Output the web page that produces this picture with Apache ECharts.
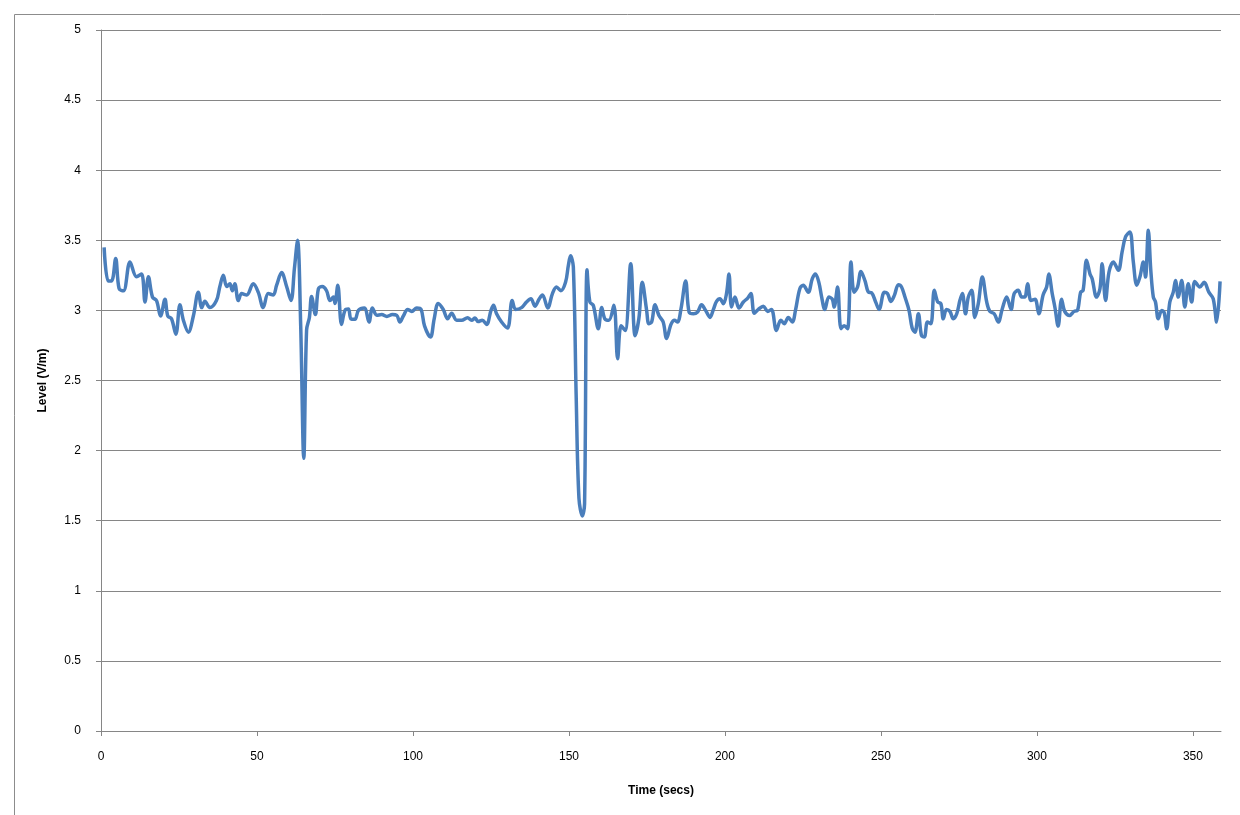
<!DOCTYPE html>
<html>
<head>
<meta charset="utf-8">
<script src="https://cdn.jsdelivr.net/npm/echarts@6/dist/echarts.min.js"></script>
<style>
html,body{margin:0;padding:0;background:#fff;}
#chart{width:1240px;height:815px;}
</style>
</head>
<body>
<div id="chart"></div>
<script>
// Time (secs)
const times = [
1.0,2.3,3.4,4.7,5.8,7.2,9.3,11.4,13.0,14.1,15.2,16.5,17.8,19.1,20.5,21.4,22.6,24.0,25.3,26.4,28.0,29.6,31.2,32.3,33.3,34.9,
37.0,38.1,39.2,40.3,41.3,42.1,42.9,44.0,45.1,46.7,48.8,50.4,52.0,53.6,55.2,56.3,57.9,59.5,60.9,62.0,63.0,64.0,65.0,65.9,66.8,67.5,68.7,
69.7,70.9,72.3,73.4,74.5,75.0,75.9,77.1,78.2,79.3,80.1,81.4,82.5,84.4,85.9,87.0,88.4,90.0,91.6,93.4,94.8,95.8,96.9,98.3,99.6,101.2,102.6,
103.7,105.6,106.8,108.1,109.7,111.1,112.4,114.0,115.6,117.5,118.8,119.9,120.9,122.2,123.6,125.0,125.8,126.8,128.4,130.3,131.8,132.9,134.8,
136.4,137.8,139.1,140.4,141.5,143.2,144.7,146.0,147.4,148.9,149.8,150.5,151.4,152.3,153.2,154.3,155.0,155.8,156.7,157.8,159.4,160.5,161.5,
162.8,164.4,165.6,166.7,168.0,169.8,171.2,172.4,173.5,174.9,175.6,176.5,177.6,178.8,180.2,181.3,182.7,183.8,184.8,185.9,187.4,188.5,189.9,
191.2,192.5,193.8,195.2,196.3,197.3,198.4,199.5,200.5,201.3,202.1,203.2,204.5,205.9,207.3,208.3,209.4,210.7,212.3,213.7,214.9,216.5,217.9,
219.0,220.3,221.6,222.6,224.0,225.1,226.7,228.0,229.0,230.1,231.0,232.0,233.3,234.4,235.0,236.1,237.2,238.2,239.3,240.4,241.4,242.5,243.6,
244.9,246.0,247.0,248.3,249.4,251.1,252.1,253.2,254.3,255.6,256.6,257.7,259.0,260.0,260.9,262.0,263.0,263.9,264.9,266.0,267.1,268.2,269.2,
270.0,271.0,272.1,273.2,274.3,275.3,276.1,277.1,278.0,279.1,280.1,281.2,282.5,283.9,284.9,286.3,287.6,288.9,290.3,291.7,292.7,294.0,295.1,
296.1,297.0,298.1,299.4,300.6,302.0,303.1,303.8,304.9,305.8,306.8,307.9,308.9,310.5,311.9,313.0,314.0,314.8,315.9,317.0,317.7,319.1,320.2,
320.9,322.0,323.1,324.5,326.1,327.3,328.4,329.8,330.9,332.0,333.0,334.1,334.8,335.7,336.5,337.3,338.0,338.9,340.0,340.8,341.6,342.6,343.7,
344.4,345.3,346.4,347.4,348.5,349.6,350.6,352.2,353.6,355.1,356.5,357.6,358.7
];
// Level (V/m)
const levels = [
3.45,3.21,3.21,3.37,3.155,3.14,3.345,3.24,3.26,3.06,3.24,3.095,3.07,2.96,3.08,2.96,2.94,2.83,3.04,2.93,2.845,2.96,3.13,3.02,3.065,3.02,
3.07,3.17,3.25,3.17,3.19,3.14,3.19,3.07,3.12,3.11,3.19,3.13,3.02,3.12,3.11,3.18,3.27,3.17,3.07,3.3,3.5,2.9,1.945,2.86,2.95,3.10,2.97,
3.155,3.17,3.14,3.07,3.095,3.05,3.18,2.9,3.0,3.01,2.94,2.936,3.0,3.017,2.917,3.017,2.965,2.97,2.957,2.97,2.965,2.917,2.96,3.007,2.993,3.017,3.007,
2.89,2.81,2.94,3.05,3.007,2.94,2.98,2.93,2.93,2.948,2.93,2.945,2.92,2.93,2.9,3.0,3.036,2.976,2.917,2.874,3.07,3.007,3.02,
3.06,3.083,3.03,3.08,3.11,3.017,3.12,3.167,3.14,3.2,3.32,3.39,3.31,2.4,1.66,1.534,1.62,3.29,3.06,3.036,2.87,3.02,2.94,
2.93,3.036,2.655,2.89,2.857,3.333,2.82,2.94,3.2,3.0,2.905,2.917,3.04,2.965,2.917,2.80,2.9,2.93,2.917,3.01,3.21,2.988,2.976,
2.988,3.04,3.0,2.95,3.007,3.064,3.083,3.048,3.12,3.26,3.024,3.095,3.017,3.06,3.088,3.12,2.98,3.007,3.03,2.993,3.007,2.857,2.93,
2.905,2.95,2.917,3.0,3.155,3.18,3.13,3.226,3.26,3.2,3.095,3.007,3.095,3.08,3.024,3.167,2.87,2.89,2.87,3.345,3.13,3.167,3.278,
3.21,3.13,3.126,3.06,3.007,3.13,3.12,3.064,3.107,3.183,3.167,3.095,3.0,2.874,2.845,2.976,2.82,2.81,2.917,2.905,3.143,3.06,3.048,
2.94,3.007,2.993,2.94,2.976,3.07,3.12,2.976,3.095,3.143,2.95,3.048,3.238,3.06,2.993,2.976,2.917,3.012,3.095,3.007,3.12,3.143,3.095,
3.095,3.19,3.07,3.08,2.976,3.112,3.167,3.26,3.12,3.017,2.888,3.08,2.993,2.964,2.993,3.0,3.13,3.143,3.357,3.26,3.226,3.095,3.155,
3.333,3.07,3.274,3.345,3.286,3.417,3.524,3.56,3.345,3.18,3.238,3.345,3.238,3.571,3.286,3.095,3.06,2.94,3.0,2.983,2.869,3.06,3.13,
3.214,3.095,3.214,3.024,3.19,3.06,3.207,3.167,3.2,3.13,3.083,2.917,3.207
];
const xTitle = 'Time (secs)';
const yTitle = 'Level (V/m)';

const seriesData = times.map((t, i) => [t, levels[i]]);
const chart = echarts.init(document.getElementById('chart'));
const font = 'Liberation Sans, Arial, sans-serif';
chart.setOption({
  animation: false,
  backgroundColor: '#ffffff',
  graphic: [{
    type: 'rect', left: 12, top: 12,
    shape: { width: 1240, height: 815 },
    style: { fill: 'none', stroke: '#8c8c8c', lineWidth: 1 },
    silent: true
  }],
  grid: { left: 101, right: 19, top: 30, bottom: 84, containLabel: false },
  xAxis: {
    type: 'value', min: 0, max: 359, interval: 50,
    name: xTitle, nameLocation: 'middle', nameGap: 54,
    nameTextStyle: { fontFamily: font, fontSize: 12, fontWeight: 'bold', color: '#000' },
    axisLine: { show: true, lineStyle: { color: '#868686', width: 1 } },
    axisTick: { show: true, length: 5, lineStyle: { color: '#868686' } },
    axisLabel: { fontFamily: font, fontSize: 12, color: '#000', margin: 20, showMaxLabel: false },
    splitLine: { show: false }
  },
  yAxis: {
    type: 'value', min: 0, max: 5, interval: 0.5,
    name: yTitle, nameLocation: 'middle', nameGap: 52,
    nameTextStyle: { fontFamily: font, fontSize: 12, fontWeight: 'bold', color: '#000' },
    axisLine: { show: true, lineStyle: { color: '#868686', width: 1 } },
    axisTick: { show: true, length: 5, lineStyle: { color: '#868686' } },
    axisLabel: { fontFamily: font, fontSize: 12, color: '#000', margin: 20 },
    splitLine: { show: true, lineStyle: { color: '#868686', width: 1 } }
  },
  series: [{
    type: 'line',
    data: seriesData,
    smooth: 0.35,
    showSymbol: false,
    symbol: 'none',
    lineStyle: { color: '#4a7ebb', width: 3.5 },
    itemStyle: { color: '#4a7ebb' }
  }]
});
</script>
</body>
</html>
